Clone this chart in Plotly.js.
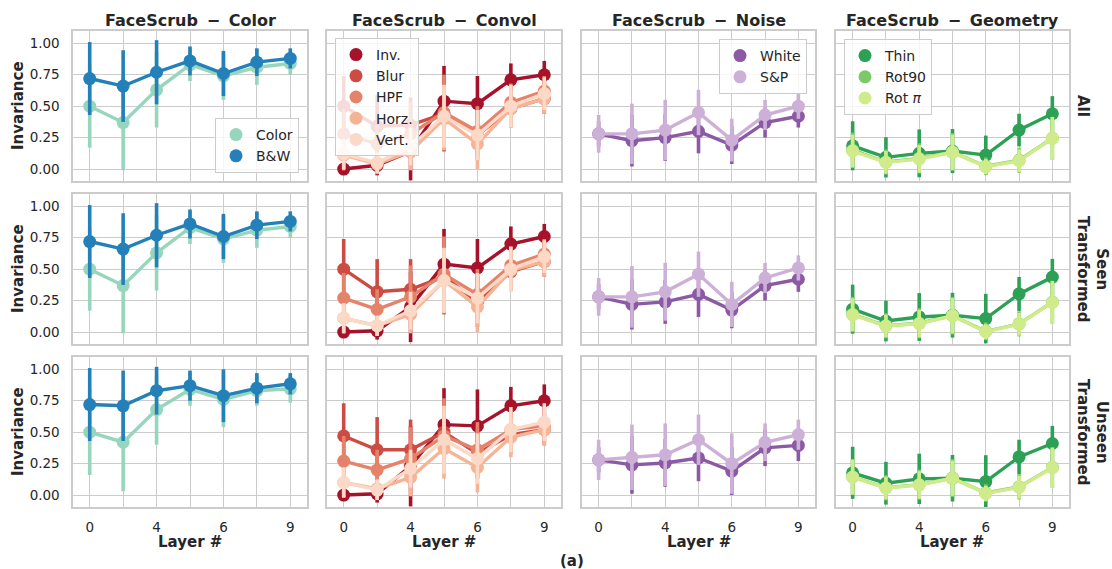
<!DOCTYPE html>
<html>
<head>
<meta charset="utf-8">
<script src="https://cdn.plot.ly/plotly-3.0.1.min.js"></script>
<style>html,body{margin:0;padding:0;background:#fff;}#chart{width:1112px;height:569px;}</style>
</head>
<body>
<div id="chart"></div>
<script>
// ---------------- DATA ----------------
const layerPos = [0, 1, 2, 3, 4, 5, 6];
const layerTicks = ['0', '', '4', '', '6', '', '9'];
const yTicks = [0, 0.25, 0.5, 0.75, 1.0];

const panelTitles = ['FaceScrub − Color', 'FaceScrub − Convol', 'FaceScrub − Noise', 'FaceScrub − Geometry'];
const rowLabels = ['All', 'Seen<br>Transformed', 'Unseen<br>Transformed'];

const colorNames = ['Color', 'B&W'];
const convolNames = ['Inv.', 'Blur', 'HPF', 'Horz.', 'Vert.'];
const noiseNames = ['White', 'S&P'];
const geomNames = ['Thin', 'Rot90', 'Rot <i>π</i>'];

// Color panel
const colorAll_Color = [0.50, 0.37, 0.63, 0.83, 0.74, 0.81, 0.84];
const colorAll_Color_ci = [0.33, 0.38, 0.30, 0.13, 0.19, 0.14, 0.09];
const colorAll_BW = [0.72, 0.66, 0.77, 0.86, 0.76, 0.85, 0.88];
const colorAll_BW_ci = [0.29, 0.285, 0.255, 0.115, 0.18, 0.11, 0.08];
const colorSeen_Color = [0.50, 0.37, 0.63, 0.83, 0.74, 0.81, 0.84];
const colorSeen_Color_ci = [0.33, 0.38, 0.30, 0.13, 0.19, 0.14, 0.09];
const colorSeen_BW = [0.72, 0.66, 0.77, 0.86, 0.76, 0.85, 0.88];
const colorSeen_BW_ci = [0.29, 0.285, 0.255, 0.115, 0.18, 0.11, 0.08];
const colorUnseen_Color = [0.50, 0.42, 0.68, 0.84, 0.76, 0.83, 0.845];
const colorUnseen_Color_ci = [0.34, 0.39, 0.28, 0.13, 0.22, 0.12, 0.11];
const colorUnseen_BW = [0.72, 0.71, 0.83, 0.87, 0.79, 0.85, 0.885];
const colorUnseen_BW_ci = [0.29, 0.28, 0.19, 0.12, 0.21, 0.12, 0.085];

// Convol panel
const convAll_Inv = [0.00, 0.03, 0.14, 0.54, 0.52, 0.71, 0.75];
const convAll_Inv_ci = [0.03, 0.08, 0.23, 0.28, 0.22, 0.13, 0.11];
const convAll_Blur = [0.50, 0.34, 0.35, 0.44, 0.27, 0.48, 0.56];
const convAll_Blur_ci = [0.24, 0.25, 0.22, 0.30, 0.20, 0.15, 0.12];
const convAll_HPF = [0.28, 0.20, 0.28, 0.45, 0.30, 0.53, 0.62];
const convAll_HPF_ci = [0.20, 0.15, 0.25, 0.30, 0.20, 0.15, 0.12];
const convAll_Horz = [0.11, 0.04, 0.14, 0.40, 0.20, 0.48, 0.56];
const convAll_Horz_ci = [0.12, 0.08, 0.15, 0.25, 0.20, 0.15, 0.12];
const convAll_Vert = [0.12, 0.05, 0.18, 0.42, 0.27, 0.50, 0.60];
const convAll_Vert_ci = [0.12, 0.08, 0.15, 0.25, 0.20, 0.17, 0.13];

const convSeen_Inv = [0.00, 0.01, 0.20, 0.54, 0.51, 0.70, 0.76];
const convSeen_Inv_ci = [0.03, 0.07, 0.28, 0.28, 0.23, 0.14, 0.10];
const convSeen_Blur = [0.50, 0.32, 0.34, 0.44, 0.24, 0.48, 0.56];
const convSeen_Blur_ci = [0.24, 0.26, 0.24, 0.30, 0.20, 0.15, 0.12];
const convSeen_HPF = [0.27, 0.18, 0.28, 0.46, 0.30, 0.53, 0.62];
const convSeen_HPF_ci = [0.20, 0.16, 0.25, 0.30, 0.20, 0.15, 0.12];
const convSeen_Horz = [0.11, 0.05, 0.14, 0.41, 0.20, 0.49, 0.56];
const convSeen_Horz_ci = [0.12, 0.08, 0.15, 0.25, 0.20, 0.15, 0.12];
const convSeen_Vert = [0.11, 0.05, 0.17, 0.41, 0.27, 0.50, 0.60];
const convSeen_Vert_ci = [0.12, 0.08, 0.15, 0.26, 0.20, 0.18, 0.13];

const convUnseen_Inv = [0.00, 0.01, 0.23, 0.56, 0.55, 0.71, 0.75];
const convUnseen_Inv_ci = [0.03, 0.07, 0.32, 0.29, 0.29, 0.15, 0.13];
const convUnseen_Blur = [0.47, 0.36, 0.36, 0.50, 0.33, 0.48, 0.52];
const convUnseen_Blur_ci = [0.26, 0.26, 0.24, 0.25, 0.20, 0.15, 0.12];
const convUnseen_HPF = [0.27, 0.20, 0.29, 0.47, 0.36, 0.52, 0.55];
const convUnseen_HPF_ci = [0.20, 0.16, 0.25, 0.30, 0.22, 0.15, 0.13];
const convUnseen_Horz = [0.10, 0.05, 0.14, 0.37, 0.22, 0.46, 0.52];
const convUnseen_Horz_ci = [0.12, 0.08, 0.15, 0.24, 0.20, 0.16, 0.13];
const convUnseen_Vert = [0.10, 0.04, 0.21, 0.44, 0.29, 0.52, 0.58];
const convUnseen_Vert_ci = [0.12, 0.08, 0.15, 0.27, 0.20, 0.18, 0.15];

// Noise panel
const noiseAll_White = [0.28, 0.225, 0.25, 0.30, 0.19, 0.37, 0.42];
const noiseAll_White_ci = [0.10, 0.205, 0.185, 0.175, 0.15, 0.12, 0.09];
const noiseAll_SP = [0.28, 0.28, 0.31, 0.45, 0.23, 0.43, 0.50];
const noiseAll_SP_ci = [0.15, 0.24, 0.24, 0.18, 0.17, 0.12, 0.10];
const noiseSeen_White = [0.28, 0.22, 0.24, 0.30, 0.175, 0.37, 0.42];
const noiseSeen_White_ci = [0.10, 0.20, 0.175, 0.18, 0.145, 0.12, 0.10];
const noiseSeen_SP = [0.28, 0.28, 0.32, 0.46, 0.22, 0.43, 0.51];
const noiseSeen_SP_ci = [0.15, 0.245, 0.23, 0.18, 0.18, 0.12, 0.10];
const noiseUnseen_White = [0.28, 0.24, 0.255, 0.295, 0.19, 0.375, 0.395];
const noiseUnseen_White_ci = [0.10, 0.23, 0.19, 0.185, 0.19, 0.145, 0.125];
const noiseUnseen_SP = [0.28, 0.30, 0.32, 0.44, 0.25, 0.42, 0.48];
const noiseUnseen_SP_ci = [0.16, 0.26, 0.25, 0.20, 0.24, 0.15, 0.12];

// Geometry panel
const geomAll_Thin = [0.185, 0.093, 0.125, 0.143, 0.111, 0.31, 0.44];
const geomAll_Thin_ci = [0.195, 0.16, 0.19, 0.175, 0.155, 0.13, 0.14];
const geomAll_Rot90 = [0.15, 0.056, 0.085, 0.135, 0.022, 0.07, 0.245];
const geomAll_Rot90_ci = [0.14, 0.10, 0.12, 0.15, 0.07, 0.10, 0.17];
const geomAll_RotPi = [0.143, 0.053, 0.08, 0.133, 0.019, 0.066, 0.244];
const geomAll_RotPi_ci = [0.13, 0.09, 0.11, 0.14, 0.06, 0.09, 0.17];
const geomSeen_Thin = [0.182, 0.088, 0.12, 0.134, 0.107, 0.303, 0.437];
const geomSeen_Thin_ci = [0.195, 0.162, 0.19, 0.178, 0.197, 0.135, 0.145];
const geomSeen_Rot90 = [0.14, 0.05, 0.07, 0.13, 0.006, 0.065, 0.238];
const geomSeen_Rot90_ci = [0.14, 0.10, 0.12, 0.15, 0.07, 0.10, 0.17];
const geomSeen_RotPi = [0.137, 0.048, 0.067, 0.129, 0.003, 0.062, 0.236];
const geomSeen_RotPi_ci = [0.13, 0.09, 0.11, 0.14, 0.06, 0.09, 0.17];
const geomUnseen_Thin = [0.177, 0.094, 0.129, 0.134, 0.107, 0.303, 0.41];
const geomUnseen_Thin_ci = [0.207, 0.17, 0.20, 0.185, 0.21, 0.137, 0.14];
const geomUnseen_Rot90 = [0.145, 0.058, 0.083, 0.135, 0.016, 0.065, 0.22];
const geomUnseen_Rot90_ci = [0.14, 0.10, 0.12, 0.15, 0.07, 0.10, 0.16];
const geomUnseen_RotPi = [0.142, 0.056, 0.08, 0.134, 0.013, 0.062, 0.217];
const geomUnseen_RotPi_ci = [0.14, 0.09, 0.11, 0.14, 0.06, 0.09, 0.16];

// ---------------- STYLE ----------------
const colorCols = ['#96d6bc', '#2380b9'];
const convolCols = ['#a5122a', '#cc4b42', '#e5836a', '#f6b496', '#fcd9c6'];
const noiseCols = ['#8c5aa5', '#cdb0d8'];
const geomCols = ['#2ca055', '#7dc96a', '#d0eb8a'];

const panels = [
  { names: colorNames, cols: colorCols, rows: [
    [[colorAll_Color, colorAll_Color_ci], [colorAll_BW, colorAll_BW_ci]],
    [[colorSeen_Color, colorSeen_Color_ci], [colorSeen_BW, colorSeen_BW_ci]],
    [[colorUnseen_Color, colorUnseen_Color_ci], [colorUnseen_BW, colorUnseen_BW_ci]] ] },
  { names: convolNames, cols: convolCols, rows: [
    [[convAll_Inv, convAll_Inv_ci], [convAll_Blur, convAll_Blur_ci], [convAll_HPF, convAll_HPF_ci], [convAll_Horz, convAll_Horz_ci], [convAll_Vert, convAll_Vert_ci]],
    [[convSeen_Inv, convSeen_Inv_ci], [convSeen_Blur, convSeen_Blur_ci], [convSeen_HPF, convSeen_HPF_ci], [convSeen_Horz, convSeen_Horz_ci], [convSeen_Vert, convSeen_Vert_ci]],
    [[convUnseen_Inv, convUnseen_Inv_ci], [convUnseen_Blur, convUnseen_Blur_ci], [convUnseen_HPF, convUnseen_HPF_ci], [convUnseen_Horz, convUnseen_Horz_ci], [convUnseen_Vert, convUnseen_Vert_ci]] ] },
  { names: noiseNames, cols: noiseCols, rows: [
    [[noiseAll_White, noiseAll_White_ci], [noiseAll_SP, noiseAll_SP_ci]],
    [[noiseSeen_White, noiseSeen_White_ci], [noiseSeen_SP, noiseSeen_SP_ci]],
    [[noiseUnseen_White, noiseUnseen_White_ci], [noiseUnseen_SP, noiseUnseen_SP_ci]] ] },
  { names: geomNames, cols: geomCols, rows: [
    [[geomAll_Thin, geomAll_Thin_ci], [geomAll_Rot90, geomAll_Rot90_ci], [geomAll_RotPi, geomAll_RotPi_ci]],
    [[geomSeen_Thin, geomSeen_Thin_ci], [geomSeen_Rot90, geomSeen_Rot90_ci], [geomSeen_RotPi, geomSeen_RotPi_ci]],
    [[geomUnseen_Thin, geomUnseen_Thin_ci], [geomUnseen_Rot90, geomUnseen_Rot90_ci], [geomUnseen_RotPi, geomUnseen_RotPi_ci]] ] }
];

const W = 1112, H = 569;
const FONT = 'DejaVu Sans, sans-serif';
const TXT = '#262626';
const GRID = '#cccccc';
const colsPx = [[73, 307], [327, 561], [582, 815], [836, 1069]];
const rowsPx = [[31, 181], [194, 344], [357, 507]];
const legendIds = ['legend', 'legend2', 'legend3', 'legend4'];

const traces = [];
const layout = {
  width: W, height: H,
  margin: { l: 0, r: 0, t: 0, b: 0 },
  paper_bgcolor: '#ffffff', plot_bgcolor: '#ffffff',
  font: { family: FONT, color: TXT, size: 13.5 },
  showlegend: true,
  annotations: []
};

for (let r = 0; r < 3; r++) {
  for (let c = 0; c < 4; c++) {
    const k = r * 4 + c + 1;
    const xa = 'xaxis' + (k === 1 ? '' : k);
    const ya = 'yaxis' + (k === 1 ? '' : k);
    layout[xa] = {
      domain: [colsPx[c][0] / W, colsPx[c][1] / W],
      anchor: 'y' + (k === 1 ? '' : k),
      range: [-0.5, 6.5],
      tickmode: 'array', tickvals: layerPos, ticktext: layerTicks,
      showticklabels: r === 2, ticks: '', ticklabelstandoff: 7,
      showgrid: true, gridcolor: GRID, gridwidth: 1,
      zeroline: false, showline: true, mirror: true, linecolor: GRID, linewidth: 1.6,
      tickfont: { size: 13.5, color: TXT, family: FONT }, fixedrange: true
    };
    layout[ya] = {
      domain: [1 - rowsPx[r][1] / H, 1 - rowsPx[r][0] / H],
      anchor: 'x' + (k === 1 ? '' : k),
      range: [-0.095, 1.098],
      tickmode: 'array', tickvals: yTicks, tickformat: '.2f',
      showticklabels: c === 0, ticks: '', ticklabelstandoff: 9,
      showgrid: true, gridcolor: GRID, gridwidth: 1,
      zeroline: false, showline: true, mirror: true, linecolor: GRID, linewidth: 1.6,
      tickfont: { size: 13.5, color: TXT, family: FONT }, fixedrange: true
    };
    const p = panels[c];
    p.rows[r].forEach((s, i) => {
      const col = p.cols[i];
      traces.push({
        type: 'scatter', mode: 'lines', x: layerPos, y: s[0],
        xaxis: 'x' + (k === 1 ? '' : k), yaxis: 'y' + (k === 1 ? '' : k),
        line: { color: col, width: 3.4 }, showlegend: false, hoverinfo: 'skip'
      });
      traces.push({
        type: 'scatter', mode: 'markers', x: layerPos, y: s[0], name: p.names[i],
        xaxis: 'x' + (k === 1 ? '' : k), yaxis: 'y' + (k === 1 ? '' : k),
        marker: { color: col, size: 13 },
        error_y: { type: 'data', array: s[1], visible: true, color: col, thickness: 3.6, width: 0 },
        showlegend: r === 0, legend: legendIds[c]
      });
    });
  }
}

const legBase = {
  bgcolor: 'rgba(255,255,255,0.8)', bordercolor: GRID, borderwidth: 1,
  font: { size: 14, color: TXT, family: FONT }, traceorder: 'normal'
};
layout.legend = Object.assign({}, legBase, { x: 299 / W, y: 1 - 173 / H, xanchor: 'right', yanchor: 'bottom' });
layout.legend2 = Object.assign({}, legBase, { x: 335 / W, y: 1 - 38 / H, xanchor: 'left', yanchor: 'top' });
layout.legend3 = Object.assign({}, legBase, { x: 807 / W, y: 1 - 39 / H, xanchor: 'right', yanchor: 'top' });
layout.legend4 = Object.assign({}, legBase, { x: 844 / W, y: 1 - 39 / H, xanchor: 'left', yanchor: 'top' });

const boldFont = { family: FONT, size: 15, color: TXT };
const titleFont = { family: FONT, size: 16, color: TXT };
const gap = '\u00a0\u2009';
// column titles & x titles
for (let c = 0; c < 4; c++) {
  const cx = (colsPx[c][0] + colsPx[c][1]) / 2 / W;
  const t = panelTitles[c].replace(' − ', gap + '−' + gap);
  layout.annotations.push({ xref: 'paper', yref: 'paper', x: cx, y: 1 - 21 / H, xanchor: 'center', yanchor: 'middle',
    text: '<b>' + t + '</b>', showarrow: false, font: titleFont });
  layout.annotations.push({ xref: 'paper', yref: 'paper', x: cx, y: 1 - 542 / H, xanchor: 'center', yanchor: 'middle',
    text: '<b>Layer #</b>', showarrow: false, font: boldFont });
}
// row labels
const rowLabelX = [1083, 1092, 1092];
for (let r = 0; r < 3; r++) {
  const cy = 1 - (rowsPx[r][0] + rowsPx[r][1]) / 2 / H;
  layout.annotations.push({ xref: 'paper', yref: 'paper', x: 18 / W, y: cy, xanchor: 'center', yanchor: 'middle',
    text: '<b>Invariance</b>', textangle: -90, showarrow: false, font: boldFont });
  layout.annotations.push({ xref: 'paper', yref: 'paper', x: rowLabelX[r] / W, y: cy, xanchor: 'center', yanchor: 'middle',
    text: '<b>' + rowLabels[r] + '</b>', textangle: 90, showarrow: false, font: boldFont });
}
layout.annotations.push({ xref: 'paper', yref: 'paper', x: 572 / W, y: 1 - 561 / H, xanchor: 'center', yanchor: 'middle',
  text: '<b>(a)</b>', showarrow: false, font: { family: FONT, size: 15, color: TXT } });

Plotly.newPlot('chart', traces, layout, { staticPlot: true, displayModeBar: false });
</script>
</body>
</html>
